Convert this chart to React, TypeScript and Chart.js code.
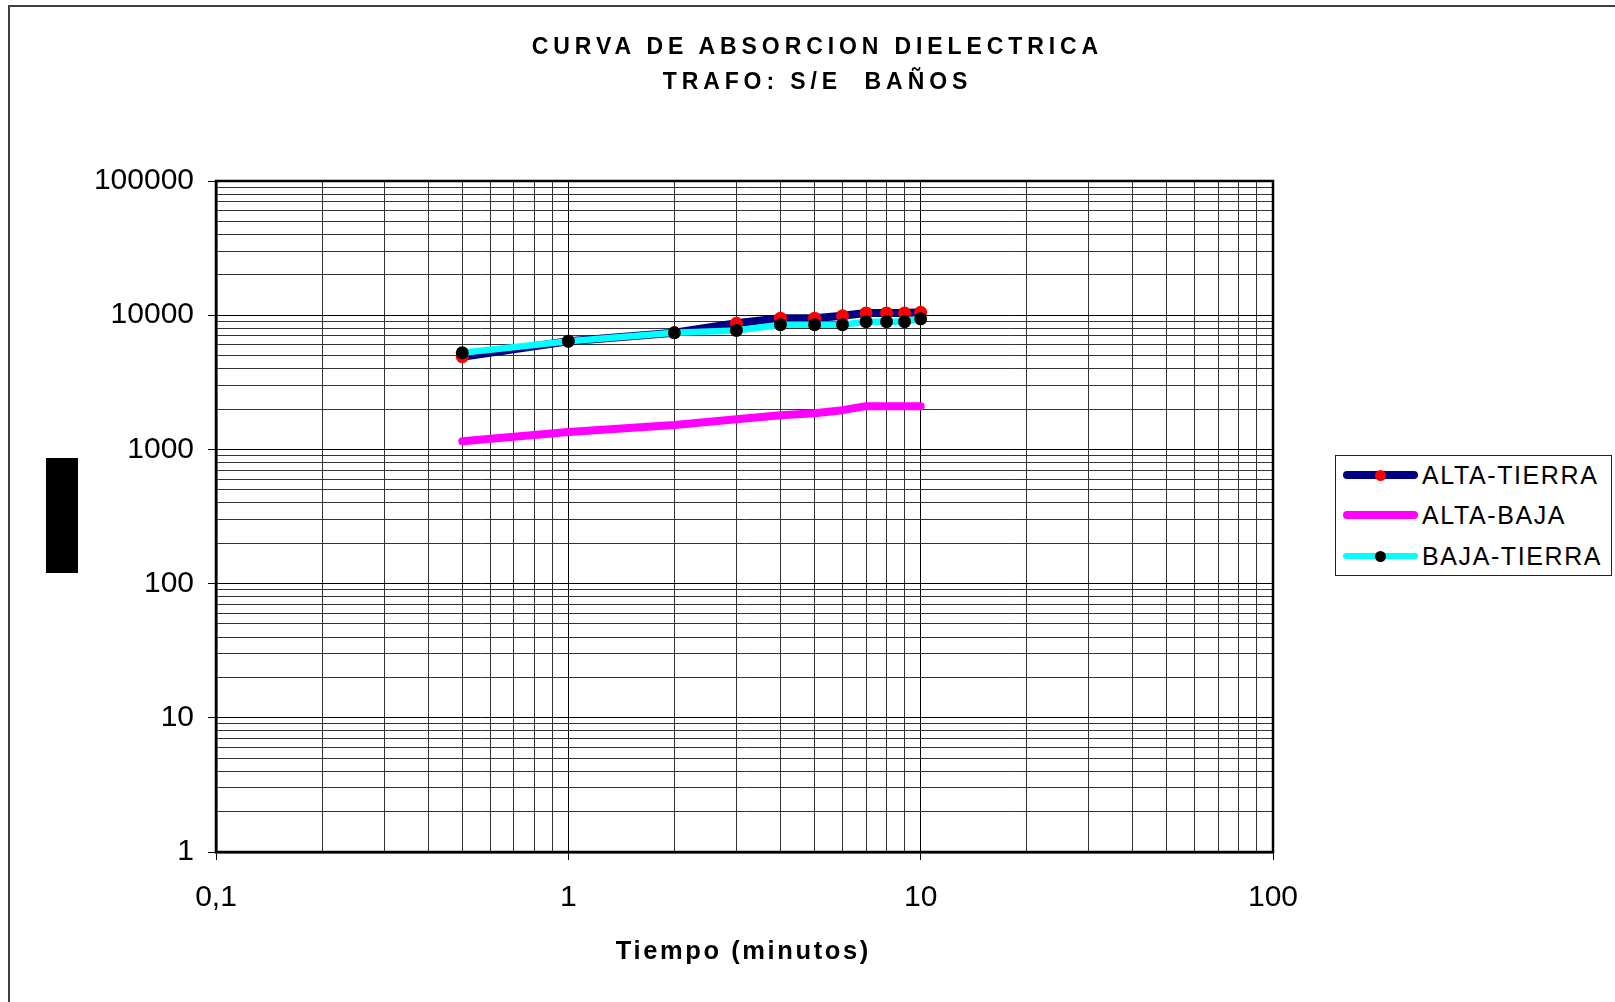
import React, { useEffect, useRef } from 'react';
import { Chart, registerables } from 'chart.js';

Chart.register(...registerables);

// ---- data ----
const timeMin = [0.5, 1, 2, 3, 4, 5, 6, 7, 8, 9, 10];
const altaTierra = [4900, 6400, 7400, 8700, 9500, 9500, 9900, 10400, 10400, 10400, 10500];
const altaBaja = [1150, 1350, 1520, 1680, 1800, 1860, 1960, 2100, 2100, 2100, 2100];
const bajaTierra = [5250, 6400, 7400, 7700, 8500, 8500, 8500, 8950, 8950, 8950, 9400];

const seriesNames = ['ALTA-TIERRA', 'ALTA-BAJA', 'BAJA-TIERRA'];
const seriesValues = [altaTierra, altaBaja, bajaTierra];
const lineColors = ['#000080', '#FF00FF', '#00FFFF'];
const markerColors = ['#FF0000', '', '#000000'];

const xTickValues = [0.1, 1, 10, 100];
const xTickLabels = ['0,1', '1', '10', '100'];
const yTickValues = [1, 10, 100, 1000, 10000, 100000];
const yTickLabels = ['1', '10', '100', '1000', '10000', '100000'];

const titleLines = ['CURVA DE ABSORCION DIELECTRICA', 'TRAFO: S/E  BAÑOS'];
const xAxisTitle = 'Tiempo (minutos)';

const FONT = "'Liberation Sans', Arial, Helvetica, sans-serif";

// grid positions 1..9 x 10^n between min and max
function logGridValues(min: number, max: number): number[] {
  const out: number[] = [];
  const e0 = Math.round(Math.log10(min));
  const e1 = Math.round(Math.log10(max));
  for (let e = e0; e < e1; e++) {
    const base = Math.pow(10, e);
    for (let m = 1; m < 10; m++) out.push(Number((m * base).toPrecision(6)));
  }
  out.push(max);
  return out;
}

function isDecade(v: number) {
  const l = Math.log10(v);
  return Math.abs(l - Math.round(l)) < 1e-9;
}

function labelFor(values: number[], labels: string[], v: number) {
  for (let i = 0; i < values.length; i++) {
    if (Math.abs(values[i] - v) / values[i] < 1e-9) return labels[i];
  }
  return '';
}

const framePlugin = {
  id: 'plotFrame',
  beforeDatasetsDraw(chart: any) {
    const { ctx, chartArea } = chart;
    const { left, top, right, bottom } = chartArea;
    ctx.save();
    ctx.strokeStyle = '#000';
    ctx.lineWidth = 2.5;
    ctx.strokeRect(left, top, right - left, bottom - top);
    ctx.restore();
  },
};

const W = 1615;
const H = 1002;
const AREA = { left: 216, top: 181, right: 1273, bottom: 852 };
const Y_AXIS_W = 140;
const X_AXIS_H = 80;

export default function App() {
  const canvasRef = useRef<HTMLCanvasElement | null>(null);

  useEffect(() => {
    const canvas = canvasRef.current;
    if (!canvas) return;
    const datasets = seriesNames.map((name, i) => ({
      label: name,
      data: timeMin.map((x, j) => ({ x, y: seriesValues[i][j] })),
      borderColor: lineColors[i],
      backgroundColor: markerColors[i] || lineColors[i],
      borderWidth: i === 2 ? 6.5 : 8,
      borderJoinStyle: 'round' as const,
      borderCapStyle: 'round' as const,
      pointRadius: markerColors[i] ? 6.5 : 0,
      pointBorderWidth: 0,
      pointBackgroundColor: markerColors[i] || lineColors[i],
      pointBorderColor: markerColors[i] || lineColors[i],
      showLine: true,
      tension: 0,
      order: i === 2 ? 0 : i === 1 ? 1 : 2,
    }));

    const gridColor = (ctx: any) => (ctx.tick && isDecade(ctx.tick.value) ? '#000' : '#333');
    const tickColor = (ctx: any) => (ctx.tick && isDecade(ctx.tick.value) ? '#000' : 'rgba(0,0,0,0)');

    const chart = new Chart(canvas, {
      type: 'scatter',
      data: { datasets },
      plugins: [framePlugin],
      options: {
        animation: false,
        responsive: true,
        maintainAspectRatio: false,
        layout: {
          padding: {
            left: AREA.left - Y_AXIS_W,
            top: AREA.top,
            right: W - AREA.right,
            bottom: H - AREA.bottom - X_AXIS_H,
          },
        },
        plugins: {
          legend: { display: false },
          title: { display: false },
          tooltip: { enabled: false },
        },
        scales: {
          x: {
            type: 'logarithmic',
            min: 0.1,
            max: 100,
            afterBuildTicks: (scale: any) => {
              scale.ticks = logGridValues(0.1, 100).map((v) => ({ value: v, major: isDecade(v) }));
            },
            afterFit: (scale: any) => {
              scale.height = X_AXIS_H;
            },
            grid: {
              color: gridColor,
              lineWidth: 1,
              drawTicks: true,
              tickLength: 8,
              tickColor,
            },
            border: { display: true, color: '#000', width: 2.5 },
            ticks: {
              autoSkip: false,
              maxRotation: 0,
              minRotation: 0,
              padding: 20,
              color: '#000',
              font: { family: FONT, size: 30 },
              callback: (value: any) => labelFor(xTickValues, xTickLabels, Number(value)),
            },
          },
          y: {
            type: 'logarithmic',
            min: 1,
            max: 100000,
            afterBuildTicks: (scale: any) => {
              scale.ticks = logGridValues(1, 100000).map((v) => ({ value: v, major: isDecade(v) }));
            },
            afterFit: (scale: any) => {
              scale.width = Y_AXIS_W;
            },
            grid: {
              color: gridColor,
              lineWidth: 1,
              drawTicks: true,
              tickLength: 8,
              tickColor,
            },
            border: { display: true, color: '#000', width: 2.5 },
            ticks: {
              autoSkip: false,
              padding: 14,
              color: '#000',
              font: { family: FONT, size: 30 },
              callback: (value: any) => labelFor(yTickValues, yTickLabels, Number(value)),
            },
          },
        },
      } as any,
    });
    return () => chart.destroy();
  }, []);

  const titleSpacing = 4.9;
  const titleSize = 23;
  const axisSpacing = 2.6;
  const axisSize = 25.5;
  const legendSize = 25;
  const legendSpacing = 1.6;
  const legendRows = [475, 515, 556];

  return (
    <div style={{ position: 'absolute', left: 0, top: 0, width: W, height: H, overflow: 'hidden', background: '#fff' }}>
      <div
        style={{
          position: 'absolute',
          left: 8,
          top: 5,
          right: 0,
          bottom: 0,
          borderLeft: '2px solid #404040',
          borderTop: '2px solid #404040',
        }}
      />
      <div style={{ position: 'absolute', left: 0, top: 0, width: W, height: H }}>
        <canvas ref={canvasRef} />
      </div>
      {titleLines.map((t, i) => (
        <div
          key={i}
          style={{
            position: 'absolute',
            left: 0,
            width: 1630,
            boxSizing: 'border-box',
            paddingLeft: titleSpacing,
            top: (i === 0 ? 46.5 : 81) - 0.4885 * titleSize,
            textAlign: 'center',
            fontFamily: FONT,
            fontWeight: 'bold',
            fontSize: titleSize,
            lineHeight: 1,
            letterSpacing: titleSpacing,
            whiteSpace: 'pre',
            color: '#000',
          }}
        >
          {t}
        </div>
      ))}
      <div
        style={{
          position: 'absolute',
          left: 342,
          width: 800,
          boxSizing: 'border-box',
          paddingLeft: axisSpacing,
          top: 950.5 - 0.4885 * axisSize,
          textAlign: 'center',
          fontFamily: FONT,
          fontWeight: 'bold',
          fontSize: axisSize,
          lineHeight: 1,
          letterSpacing: axisSpacing,
          whiteSpace: 'pre',
          color: '#000',
        }}
      >
        {xAxisTitle}
      </div>
      <div style={{ position: 'absolute', left: 46, top: 458, width: 32, height: 115, background: '#000' }} />
      <div
        style={{
          position: 'absolute',
          left: 1335,
          top: 455,
          width: 277,
          height: 121,
          boxSizing: 'border-box',
          border: '1px solid #222',
          background: '#fff',
        }}
      />
      {seriesNames.map((name, i) => {
        const cy = legendRows[i];
        const lw = i === 2 ? 6 : 8;
        return (
          <React.Fragment key={name}>
            <div
              style={{
                position: 'absolute',
                left: 1343,
                top: cy - lw / 2,
                width: 75,
                height: lw,
                borderRadius: lw / 2,
                background: lineColors[i],
              }}
            />
            {markerColors[i] ? (
              <div
                style={{
                  position: 'absolute',
                  left: 1380.5 - 5.5,
                  top: cy - 5.5,
                  width: 11,
                  height: 11,
                  borderRadius: 6,
                  background: markerColors[i],
                }}
              />
            ) : null}
            <div
              style={{
                position: 'absolute',
                left: 1422,
                top: cy - 0.4885 * legendSize,
                fontFamily: FONT,
                fontSize: legendSize,
                lineHeight: 1,
                letterSpacing: legendSpacing,
                whiteSpace: 'pre',
                color: '#000',
              }}
            >
              {name}
            </div>
          </React.Fragment>
        );
      })}
    </div>
  );
}
